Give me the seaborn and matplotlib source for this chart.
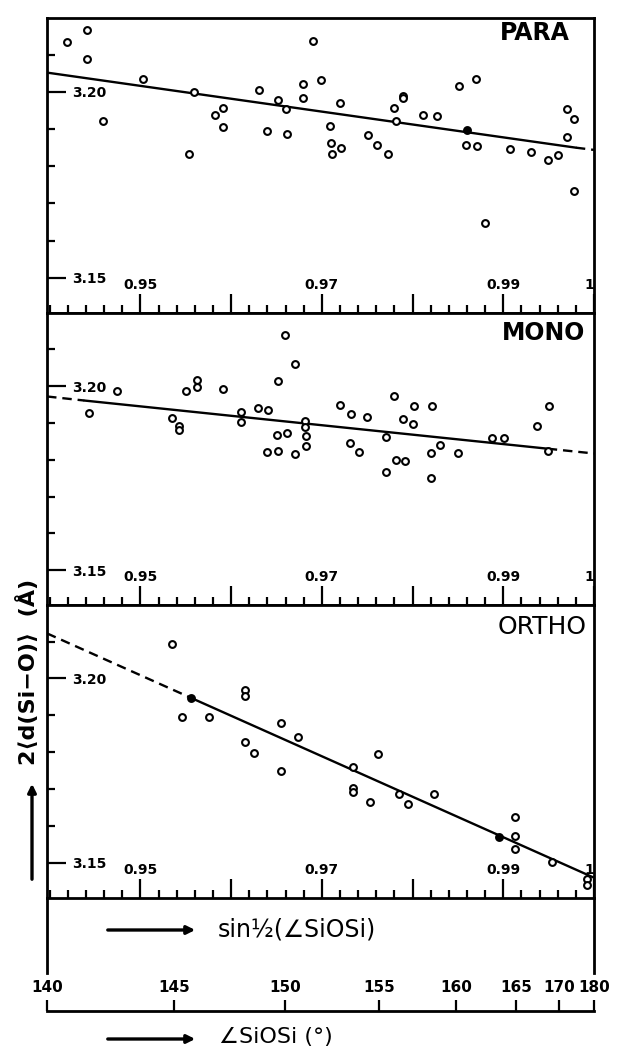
import numpy as np
import pandas as pd
import matplotlib
matplotlib.use("Agg")
import matplotlib.pyplot as plt
from matplotlib.ticker import MultipleLocator, FixedLocator
import seaborn as sns

# --- data (x = sin(1/2 SiOSi), y = 2<d(Si-O)> in A) ---
para_x = [0.9419, 0.9441, 0.9441, 0.9459, 0.9503, 0.9553, 0.9559, 0.9582, 0.9591, 0.9591,
          0.9631, 0.9639, 0.9652, 0.9660, 0.9661, 0.9679, 0.9679, 0.9690, 0.9699, 0.9720,
          0.9709, 0.9710, 0.9711, 0.9721, 0.9751, 0.9761, 0.9773, 0.9780, 0.9782, 0.9789,
          0.9789, 0.9812, 0.9827, 0.9851, 0.9870, 0.9859, 0.9871, 0.9880, 0.9907, 0.9930,
          0.9949, 0.9960, 0.9970, 0.9978, 0.9970, 0.9978]
para_y = [3.2135, 3.2167, 3.2088, 3.1921, 3.2035, 3.1832, 3.2001, 3.1937, 3.1956, 3.1906,
          3.2004, 3.1896, 3.1979, 3.1953, 3.1888, 3.2021, 3.1983, 3.2138, 3.2031, 3.1971,
          3.1909, 3.1863, 3.1832, 3.1850, 3.1883, 3.1856, 3.1832, 3.1958, 3.1921, 3.1990,
          3.1983, 3.1939, 3.1934, 3.2015, 3.2035, 3.1856, 3.1854, 3.1648, 3.1846, 3.1837,
          3.1816, 3.1830, 3.1955, 3.1928, 3.1880, 3.1733]
para_filled_x = [0.9860]
para_filled_y = [3.1897]
para_fit_x = [0.9397, 0.9980]
para_fit_y = [3.2052, 3.1850]
para_ext_x = [0.9980, 1.0000]
para_ext_y = [3.1850, 3.1844]

mono_x = [0.9443, 0.9474, 0.9535, 0.9542, 0.9543, 0.9550, 0.9562, 0.9562, 0.9591, 0.9611,
          0.9611, 0.9630, 0.9641, 0.9652, 0.9659, 0.9670, 0.9650, 0.9661, 0.9640, 0.9652,
          0.9670, 0.9681, 0.9681, 0.9682, 0.9682, 0.9720, 0.9732, 0.9750, 0.9731, 0.9741,
          0.9771, 0.9771, 0.9780, 0.9789, 0.9801, 0.9800, 0.9782, 0.9792, 0.9821, 0.9820,
          0.9820, 0.9830, 0.9850, 0.9888, 0.9901, 0.9937, 0.9950, 0.9949]
mono_y = [3.1926, 3.1987, 3.1914, 3.1893, 3.1880, 3.1986, 3.2017, 3.1999, 3.1992, 3.1929,
          3.1902, 3.1940, 3.1935, 3.2013, 3.2138, 3.2061, 3.1866, 3.1872, 3.1822, 3.1825,
          3.1816, 3.1904, 3.1890, 3.1865, 3.1836, 3.1950, 3.1924, 3.1917, 3.1846, 3.1821,
          3.1861, 3.1766, 3.1972, 3.1910, 3.1946, 3.1898, 3.1800, 3.1796, 3.1946, 3.1819,
          3.1751, 3.1839, 3.1819, 3.1858, 3.1860, 3.1891, 3.1946, 3.1825]
mono_fit_x = [0.9438, 0.9949]
mono_fit_y = [3.1961, 3.1830]
mono_ext_left_x = [0.9397, 0.9438]
mono_ext_left_y = [3.1972, 3.1961]
mono_ext_right_x = [0.9949, 1.0000]
mono_ext_right_y = [3.1830, 3.1817]

ortho_x = [0.9535, 0.9546, 0.9576, 0.9615, 0.9615, 0.9615, 0.9625, 0.9655, 0.9674, 0.9655,
           0.9762, 0.9734, 0.9734, 0.9734, 0.9753, 0.9785, 0.9795, 0.9824, 0.9913, 0.9913,
           0.9913, 0.9954, 0.9992, 0.9992]
ortho_y = [3.2093, 3.1896, 3.1896, 3.1968, 3.1952, 3.1827, 3.1798, 3.1880, 3.1842, 3.1749,
           3.1795, 3.1760, 3.1702, 3.1692, 3.1665, 3.1686, 3.1660, 3.1688, 3.1624, 3.1573,
           3.1539, 3.1503, 3.1456, 3.1440]
ortho_filled_x = [0.9556, 0.9895]
ortho_filled_y = [3.1947, 3.1570]
ortho_fit_x = [0.9556, 1.0000]
ortho_fit_y = [3.1947, 3.1460]
ortho_ext_x = [0.9397, 0.9556]
ortho_ext_y = [3.2122, 3.1947]

sin_ticks = [0.95, 0.96, 0.97, 0.98, 0.99, 1.00]
sin_labels = ["0.95", "", "0.97", "", "0.99", "1"]
y_ticks = [3.15, 3.20]
y_labels = ["3.15", "3.20"]
angle_ticks = [140, 145, 150, 155, 160, 165, 170, 180]

X_MIN = np.sin(np.radians(70.0))
X_MAX = 1.0
Y_MIN, Y_MAX = 3.1405, 3.2199

sns.set_style("ticks")
plt.rcParams["font.family"] = ["DejaVu Sans"]
plt.rcParams["font.weight"] = "bold"
plt.rcParams["text.color"] = "black"
plt.rcParams["axes.edgecolor"] = "black"
plt.rcParams["xtick.color"] = "black"
plt.rcParams["ytick.color"] = "black"
plt.rcParams["xtick.labelcolor"] = "black"
plt.rcParams["ytick.labelcolor"] = "black"

fig = plt.figure(figsize=(6.18, 10.51), dpi=100)

LEFT = 47 / 618
WIDTH = (594 - 47) / 618
H = 1051


def frame(top_px, bot_px):
    return [LEFT, 1 - bot_px / H, WIDTH, (bot_px - top_px) / H]


def style_panel(ax):
    ax.set_xlim(X_MIN, X_MAX)
    ax.set_ylim(Y_MIN, Y_MAX)
    for sp in ax.spines.values():
        sp.set_linewidth(2.0)
        sp.set_color("black")
        sp.set_visible(True)
    ax.xaxis.set_major_locator(FixedLocator(sin_ticks))
    ax.set_xticklabels(sin_labels)
    ax.xaxis.set_minor_locator(MultipleLocator(0.002))
    ax.yaxis.set_major_locator(FixedLocator(y_ticks))
    ax.set_yticklabels(y_labels)
    ax.yaxis.set_minor_locator(MultipleLocator(0.01))
    ax.tick_params(which="both", direction="in", top=False, right=False,
                   color="black", width=1.6)
    ax.tick_params(which="major", length=14)
    ax.tick_params(which="minor", length=6)
    ax.tick_params(axis="y", which="major", pad=-43, labelsize=10)
    ax.tick_params(axis="x", which="major", pad=-25, labelsize=10)
    for lab in ax.get_xticklabels():
        if lab.get_text() == "1":
            lab.set_ha("right")
    ax.set_xlabel("")
    ax.set_ylabel("")


def draw_points(ax, x, y, filled=False):
    sns.scatterplot(x=x, y=y, ax=ax, marker="o", s=24,
                    facecolor="black" if filled else "white",
                    edgecolor="black", linewidth=1.5, zorder=3)


def draw_line(ax, x, y, dashed=False):
    sns.lineplot(x=x, y=y, ax=ax, color="black", lw=1.7,
                 linestyle=(0, (4, 2.5)) if dashed else "-", zorder=2)


# PARA
ax1 = fig.add_axes(frame(18, 313))
draw_line(ax1, para_fit_x, para_fit_y)
draw_line(ax1, para_ext_x, para_ext_y, dashed=True)
draw_points(ax1, para_x, para_y)
draw_points(ax1, para_filled_x, para_filled_y, filled=True)
style_panel(ax1)
ax1.text(0.956, 0.949, "PARA", transform=ax1.transAxes, ha="right", va="center",
         fontsize=17, fontweight="bold")

# MONO
ax2 = fig.add_axes(frame(313, 605))
draw_line(ax2, mono_fit_x, mono_fit_y)
draw_line(ax2, mono_ext_left_x, mono_ext_left_y, dashed=True)
draw_line(ax2, mono_ext_right_x, mono_ext_right_y, dashed=True)
draw_points(ax2, mono_x, mono_y)
style_panel(ax2)
ax2.text(0.984, 0.932, "MONO", transform=ax2.transAxes, ha="right", va="center",
         fontsize=17, fontweight="bold")

# ORTHO
ax3 = fig.add_axes(frame(605, 898))
draw_line(ax3, ortho_fit_x, ortho_fit_y)
draw_line(ax3, ortho_ext_x, ortho_ext_y, dashed=True)
draw_points(ax3, ortho_x, ortho_y)
draw_points(ax3, ortho_filled_x, ortho_filled_y, filled=True)
style_panel(ax3)
ax3.text(0.987, 0.925, "ORTHO", transform=ax3.transAxes, ha="right", va="center",
         fontsize=18, fontweight="normal")

# box under the panels holding the sin label
ax4 = fig.add_axes(frame(898, 973))
ax4.set_xlim(X_MIN, X_MAX)
for name, sp in ax4.spines.items():
    sp.set_visible(name in ("left", "right"))
    sp.set_linewidth(2.0)
    sp.set_color("black")
ax4.set_xticks([])
ax4.set_yticks([])
ax4.patch.set_alpha(0)

# angle axis (non-linear, ticks placed at sin(theta/2))
ax5 = fig.add_axes([LEFT, 1 - 1030 / H, WIDTH, 19 / H])
ax5.set_xlim(X_MIN, X_MAX)
for name, sp in ax5.spines.items():
    sp.set_visible(name == "top")
    sp.set_linewidth(2.0)
    sp.set_color("black")
ax5.set_yticks([])
ax5.xaxis.set_ticks_position("top")
ax5.xaxis.set_label_position("top")
ax5.set_xticks(np.sin(np.radians(np.array(angle_ticks) / 2.0)))
ax5.set_xticklabels([str(a) for a in angle_ticks])
ax5.tick_params(axis="x", direction="out", length=8, width=1.6, pad=3.5,
                labelsize=11)
ax5.patch.set_alpha(0)

# labels with arrows
fig.text(218 / 618, 1 - 930 / H, "sin½(∠SiOSi)", ha="left", va="center",
         fontsize=17, fontweight="normal")
fig.text(219 / 618, 1 - 1037 / H, "∠SiOSi (°)", ha="left", va="center",
         fontsize=16, fontweight="normal")
for ypx in (930, 1039):
    fig.add_artist(matplotlib.patches.FancyArrowPatch(
        (105 / 618, 1 - ypx / H), (198 / 618, 1 - ypx / H),
        transform=fig.transFigure, arrowstyle="-|>", mutation_scale=12,
        lw=2.4, color="black"))

fig.text(28 / 618, 1 - 672 / H, "2⟨d(Si−O)⟩  (Å)", rotation=90, ha="center",
         va="center", fontsize=16, fontweight="bold")
fig.add_artist(matplotlib.patches.FancyArrowPatch(
    (32 / 618, 1 - 882 / H), (32 / 618, 1 - 781 / H),
    transform=fig.transFigure, arrowstyle="-|>", mutation_scale=12,
    lw=2.4, color="black"))

fig.savefig("out.png", dpi=100, facecolor="white")
